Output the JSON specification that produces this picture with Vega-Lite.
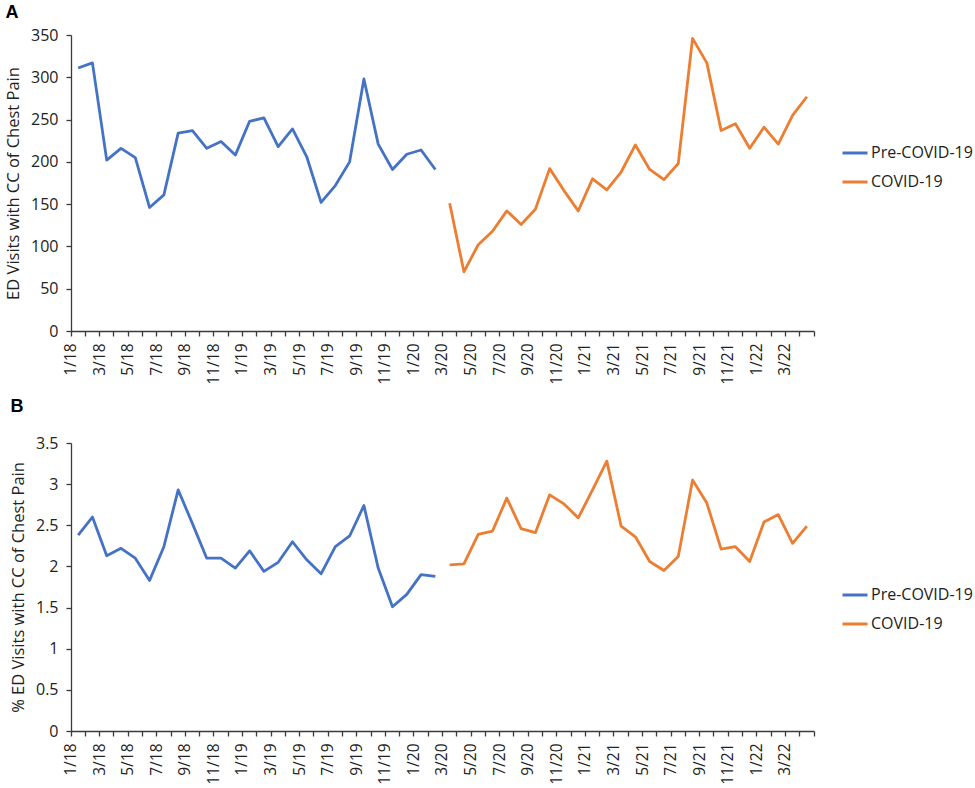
{
  "$schema": "https://vega.github.io/schema/vega-lite/v6.json",
  "background": "white",
  "padding": {"left": 5, "top": 4, "right": 5, "bottom": 5},
  "config": {
    "font": "Open Sans",
    "view": {"stroke": null},
    "axis": {
      "grid": false,
      "domainColor": "#3a3a3a",
      "tickColor": "#3a3a3a",
      "domainWidth": 1.3,
      "tickWidth": 1.3,
      "tickSize": 5,
      "labelColor": "#222",
      "titleColor": "#222",
      "labelFont": "Open Sans",
      "titleFont": "Open Sans",
      "titleFontWeight": "normal",
      "titleFontSize": 16.5
    },
    "legend": {
      "labelFont": "Open Sans",
      "labelFontSize": 16,
      "labelColor": "#222",
      "symbolType": "stroke",
      "symbolSize": 625,
      "symbolStrokeWidth": 3,
      "labelOffset": 2,
      "rowPadding": 7,
      "padding": 0
    },
    "title": {"font": "Liberation Sans", "fontSize": 18, "fontWeight": "bold", "color": "#000", "anchor": "start"}
  },
  "datasets": {
    "visits": [
      {"month": "1/18", "period": "Pre-COVID-19", "value": 311},
      {"month": "2/18", "period": "Pre-COVID-19", "value": 317},
      {"month": "3/18", "period": "Pre-COVID-19", "value": 202},
      {"month": "4/18", "period": "Pre-COVID-19", "value": 216},
      {"month": "5/18", "period": "Pre-COVID-19", "value": 205},
      {"month": "6/18", "period": "Pre-COVID-19", "value": 146},
      {"month": "7/18", "period": "Pre-COVID-19", "value": 161},
      {"month": "8/18", "period": "Pre-COVID-19", "value": 234},
      {"month": "9/18", "period": "Pre-COVID-19", "value": 237},
      {"month": "10/18", "period": "Pre-COVID-19", "value": 216},
      {"month": "11/18", "period": "Pre-COVID-19", "value": 224},
      {"month": "12/18", "period": "Pre-COVID-19", "value": 208},
      {"month": "1/19", "period": "Pre-COVID-19", "value": 248},
      {"month": "2/19", "period": "Pre-COVID-19", "value": 252},
      {"month": "3/19", "period": "Pre-COVID-19", "value": 218},
      {"month": "4/19", "period": "Pre-COVID-19", "value": 239},
      {"month": "5/19", "period": "Pre-COVID-19", "value": 206},
      {"month": "6/19", "period": "Pre-COVID-19", "value": 152},
      {"month": "7/19", "period": "Pre-COVID-19", "value": 172},
      {"month": "8/19", "period": "Pre-COVID-19", "value": 200},
      {"month": "9/19", "period": "Pre-COVID-19", "value": 298},
      {"month": "10/19", "period": "Pre-COVID-19", "value": 221},
      {"month": "11/19", "period": "Pre-COVID-19", "value": 191},
      {"month": "12/19", "period": "Pre-COVID-19", "value": 209},
      {"month": "1/20", "period": "Pre-COVID-19", "value": 214},
      {"month": "2/20", "period": "Pre-COVID-19", "value": 191},
      {"month": "3/20", "period": "COVID-19", "value": 151},
      {"month": "4/20", "period": "COVID-19", "value": 70},
      {"month": "5/20", "period": "COVID-19", "value": 102},
      {"month": "6/20", "period": "COVID-19", "value": 118},
      {"month": "7/20", "period": "COVID-19", "value": 142},
      {"month": "8/20", "period": "COVID-19", "value": 126},
      {"month": "9/20", "period": "COVID-19", "value": 144},
      {"month": "10/20", "period": "COVID-19", "value": 192},
      {"month": "11/20", "period": "COVID-19", "value": 166},
      {"month": "12/20", "period": "COVID-19", "value": 142},
      {"month": "1/21", "period": "COVID-19", "value": 180},
      {"month": "2/21", "period": "COVID-19", "value": 167},
      {"month": "3/21", "period": "COVID-19", "value": 188},
      {"month": "4/21", "period": "COVID-19", "value": 220},
      {"month": "5/21", "period": "COVID-19", "value": 191},
      {"month": "6/21", "period": "COVID-19", "value": 179},
      {"month": "7/21", "period": "COVID-19", "value": 198},
      {"month": "8/21", "period": "COVID-19", "value": 346},
      {"month": "9/21", "period": "COVID-19", "value": 317},
      {"month": "10/21", "period": "COVID-19", "value": 237},
      {"month": "11/21", "period": "COVID-19", "value": 245},
      {"month": "12/21", "period": "COVID-19", "value": 216},
      {"month": "1/22", "period": "COVID-19", "value": 241},
      {"month": "2/22", "period": "COVID-19", "value": 221},
      {"month": "3/22", "period": "COVID-19", "value": 255},
      {"month": "4/22", "period": "COVID-19", "value": 277}
    ],
    "pct": [
      {"month": "1/18", "period": "Pre-COVID-19", "value": 2.38},
      {"month": "2/18", "period": "Pre-COVID-19", "value": 2.6},
      {"month": "3/18", "period": "Pre-COVID-19", "value": 2.13},
      {"month": "4/18", "period": "Pre-COVID-19", "value": 2.22},
      {"month": "5/18", "period": "Pre-COVID-19", "value": 2.1},
      {"month": "6/18", "period": "Pre-COVID-19", "value": 1.83},
      {"month": "7/18", "period": "Pre-COVID-19", "value": 2.24},
      {"month": "8/18", "period": "Pre-COVID-19", "value": 2.93},
      {"month": "9/18", "period": "Pre-COVID-19", "value": 2.52},
      {"month": "10/18", "period": "Pre-COVID-19", "value": 2.1},
      {"month": "11/18", "period": "Pre-COVID-19", "value": 2.1},
      {"month": "12/18", "period": "Pre-COVID-19", "value": 1.98},
      {"month": "1/19", "period": "Pre-COVID-19", "value": 2.19},
      {"month": "2/19", "period": "Pre-COVID-19", "value": 1.94},
      {"month": "3/19", "period": "Pre-COVID-19", "value": 2.05},
      {"month": "4/19", "period": "Pre-COVID-19", "value": 2.3},
      {"month": "5/19", "period": "Pre-COVID-19", "value": 2.08},
      {"month": "6/19", "period": "Pre-COVID-19", "value": 1.91},
      {"month": "7/19", "period": "Pre-COVID-19", "value": 2.24},
      {"month": "8/19", "period": "Pre-COVID-19", "value": 2.37},
      {"month": "9/19", "period": "Pre-COVID-19", "value": 2.74},
      {"month": "10/19", "period": "Pre-COVID-19", "value": 1.98},
      {"month": "11/19", "period": "Pre-COVID-19", "value": 1.51},
      {"month": "12/19", "period": "Pre-COVID-19", "value": 1.66},
      {"month": "1/20", "period": "Pre-COVID-19", "value": 1.9},
      {"month": "2/20", "period": "Pre-COVID-19", "value": 1.88},
      {"month": "3/20", "period": "COVID-19", "value": 2.02},
      {"month": "4/20", "period": "COVID-19", "value": 2.03},
      {"month": "5/20", "period": "COVID-19", "value": 2.39},
      {"month": "6/20", "period": "COVID-19", "value": 2.43},
      {"month": "7/20", "period": "COVID-19", "value": 2.83},
      {"month": "8/20", "period": "COVID-19", "value": 2.46},
      {"month": "9/20", "period": "COVID-19", "value": 2.41},
      {"month": "10/20", "period": "COVID-19", "value": 2.87},
      {"month": "11/20", "period": "COVID-19", "value": 2.76},
      {"month": "12/20", "period": "COVID-19", "value": 2.59},
      {"month": "1/21", "period": "COVID-19", "value": 2.93},
      {"month": "2/21", "period": "COVID-19", "value": 3.28},
      {"month": "3/21", "period": "COVID-19", "value": 2.49},
      {"month": "4/21", "period": "COVID-19", "value": 2.36},
      {"month": "5/21", "period": "COVID-19", "value": 2.06},
      {"month": "6/21", "period": "COVID-19", "value": 1.95},
      {"month": "7/21", "period": "COVID-19", "value": 2.12},
      {"month": "8/21", "period": "COVID-19", "value": 3.05},
      {"month": "9/21", "period": "COVID-19", "value": 2.77},
      {"month": "10/21", "period": "COVID-19", "value": 2.21},
      {"month": "11/21", "period": "COVID-19", "value": 2.24},
      {"month": "12/21", "period": "COVID-19", "value": 2.06},
      {"month": "1/22", "period": "COVID-19", "value": 2.54},
      {"month": "2/22", "period": "COVID-19", "value": 2.63},
      {"month": "3/22", "period": "COVID-19", "value": 2.28},
      {"month": "4/22", "period": "COVID-19", "value": 2.49}
    ]
  },
  "spacing": 13,
  "resolve": {"legend": {"color": "independent"}},
  "vconcat": [
    {
      "title": {"text": "A", "offset": 5},
      "width": 743,
      "height": 296,
      "data": {"name": "visits"},
      "mark": {"type": "line", "strokeWidth": 2.8, "strokeJoin": "round"},
      "encoding": {
        "x": {
          "field": "month",
          "type": "ordinal",
          "sort": null,
          "scale": {"type": "band", "paddingInner": 0, "paddingOuter": 0},
          "axis": {
            "title": null,
            "labelAngle": -90,
            "labelFontSize": 15.5,
            "labelPadding": 7,
            "labelOverlap": false,
            "bandPosition": 1,
            "tickExtra": true,
            "labelOffset": -7.15,
            "labelExpr": "toNumber(split(datum.label, '/')[0]) % 2 == 1 ? datum.label : ''"
          }
        },
        "y": {
          "field": "value",
          "type": "quantitative",
          "scale": {"domain": [0, 350]},
          "axis": {
            "title": "ED Visits with CC of Chest Pain",
            "values": [0, 50, 100, 150, 200, 250, 300, 350],
            "format": "d",
            "labelFontSize": 16,
            "labelPadding": 8,
            "titlePadding": 9
          }
        },
        "color": {
          "field": "period",
          "type": "nominal",
          "scale": {"domain": ["Pre-COVID-19", "COVID-19"], "range": ["#4472C4", "#ED7D31"]},
          "legend": {"title": null, "orient": "none", "legendX": 770, "legendY": 104}
        }
      }
    },
    {
      "title": {"text": "B", "offset": 19},
      "width": 743,
      "height": 288,
      "data": {"name": "pct"},
      "mark": {"type": "line", "strokeWidth": 2.8, "strokeJoin": "round"},
      "encoding": {
        "x": {
          "field": "month",
          "type": "ordinal",
          "sort": null,
          "scale": {"type": "band", "paddingInner": 0, "paddingOuter": 0},
          "axis": {
            "title": null,
            "labelAngle": -90,
            "labelFontSize": 15.5,
            "labelPadding": 7,
            "labelOverlap": false,
            "bandPosition": 1,
            "tickExtra": true,
            "labelOffset": -7.15,
            "labelExpr": "toNumber(split(datum.label, '/')[0]) % 2 == 1 ? datum.label : ''"
          }
        },
        "y": {
          "field": "value",
          "type": "quantitative",
          "scale": {"domain": [0, 3.5]},
          "axis": {
            "title": "% ED Visits with CC of Chest Pain",
            "values": [0, 0.5, 1, 1.5, 2, 2.5, 3, 3.5],
            "format": ".1~f",
            "labelFontSize": 16,
            "labelPadding": 8,
            "titlePadding": 9
          }
        },
        "color": {
          "field": "period",
          "type": "nominal",
          "scale": {"domain": ["Pre-COVID-19", "COVID-19"], "range": ["#4472C4", "#ED7D31"]},
          "legend": {"title": null, "orient": "none", "legendX": 770, "legendY": 138}
        }
      }
    }
  ]
}
